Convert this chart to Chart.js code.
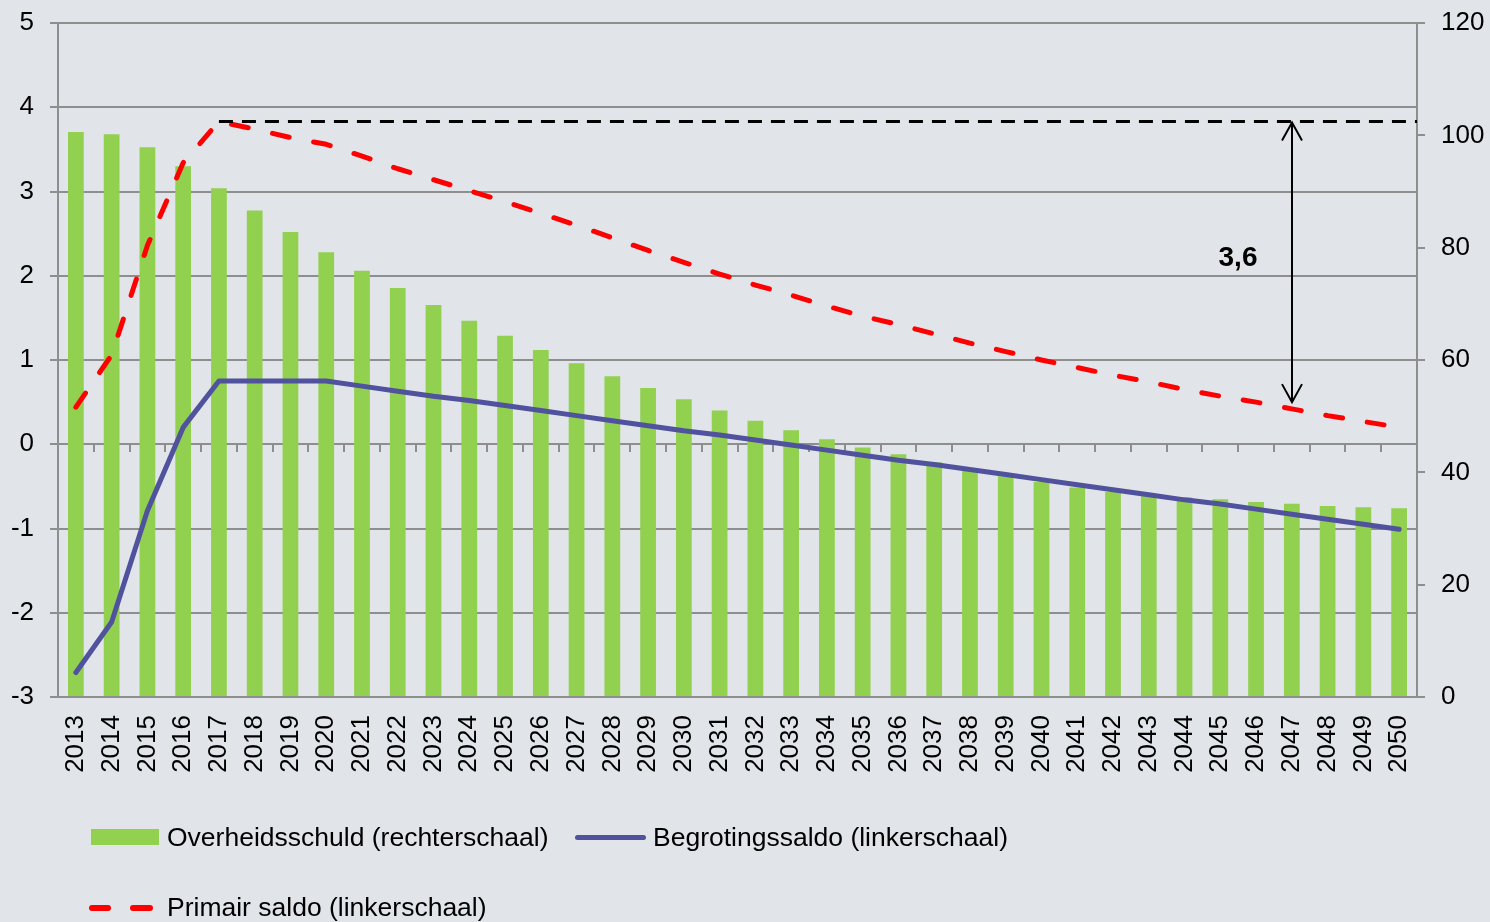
<!DOCTYPE html>
<html>
<head>
<meta charset="utf-8">
<script src="https://cdn.jsdelivr.net/npm/chart.js@4.4.1/dist/chart.umd.min.js"></script>
<style>
html,body{margin:0;padding:0;background:#E1E4E9;}
#wrap{position:relative;width:1490px;height:922px;overflow:hidden;background:#E1E4E9;}
#c{position:absolute;left:0;top:0;}
.lg{position:absolute;font-family:'Liberation Sans',Arial,sans-serif;font-size:26.5px;line-height:26px;color:#000;white-space:nowrap;}
.sw{position:absolute;}
</style>
</head>
<body>
<div id="wrap">
<canvas id="c" width="1490" height="922"></canvas>
<div class="sw" style="left:91px;top:829px;width:68px;height:16px;background:#92D050"></div>
<div class="lg" style="left:167px;top:824px">Overheidsschuld (rechterschaal)</div>
<div class="sw" style="left:575px;top:835px;width:71px;height:5px;border-radius:3px;background:#50529E"></div>
<div class="lg" style="left:653px;top:824px">Begrotingssaldo (linkerschaal)</div>
<div class="sw" style="left:89px;top:905px;width:22px;height:6px;border-radius:3px;background:#FF0000"></div>
<div class="sw" style="left:130px;top:905px;width:23px;height:6px;border-radius:3px;background:#FF0000"></div>
<div class="lg" style="left:167px;top:894px">Primair saldo (linkerschaal)</div>
</div>
<script>
// ---- data ----
const years = ['2013','2014','2015','2016','2017','2018','2019','2020','2021','2022','2023','2024','2025','2026','2027','2028','2029','2030','2031','2032','2033','2034','2035','2036','2037','2038','2039','2040','2041','2042','2043','2044','2045','2046','2047','2048','2049','2050'];
const overheidsschuld = [100.6,100.2,97.9,94.5,90.6,86.6,82.8,79.2,75.9,72.8,69.8,67.0,64.3,61.8,59.4,57.1,55.0,53.0,51.0,49.2,47.5,45.9,44.4,43.2,41.8,40.5,39.3,38.3,37.3,36.5,35.9,35.5,35.2,34.7,34.4,34.0,33.8,33.6];
const begrotingssaldo = [-2.71,-2.11,-0.79,0.20,0.75,0.75,0.75,0.75,0.69,0.63,0.57,0.52,0.46,0.40,0.34,0.28,0.22,0.16,0.11,0.05,-0.01,-0.07,-0.13,-0.19,-0.24,-0.30,-0.36,-0.42,-0.48,-0.54,-0.60,-0.66,-0.71,-0.77,-0.83,-0.89,-0.95,-1.01];
const primairSaldo = [0.44,1.06,2.36,3.34,3.83,3.74,3.64,3.56,3.42,3.27,3.14,3.01,2.88,2.74,2.60,2.45,2.30,2.16,2.02,1.89,1.77,1.64,1.52,1.42,1.31,1.20,1.10,1.00,0.91,0.82,0.74,0.65,0.57,0.50,0.42,0.34,0.27,0.20];
const leftTicks = [-3,-2,-1,0,1,2,3,4,5];
const rightTicks = [0,20,40,60,80,100,120];
const gapLabel = '3,6';
const gapFromYear = '2017';
const gapArrowYear = '2047';
const gapTop = 3.83;
const gapBottom = 0.50;

const FONT = "'Liberation Sans', Arial, sans-serif";
const GRID = '#8E8E8E';

const decor = {
  id: 'decor',
  beforeDatasetsDraw(chart) {
    const {ctx, chartArea: a, scales: {x, yL}} = chart;
    const y0 = Math.round(yL.getPixelForValue(0));
    ctx.save();
    ctx.strokeStyle = GRID;
    ctx.lineWidth = 2;
    ctx.beginPath();
    ctx.moveTo(a.left, y0);
    ctx.lineTo(a.right, y0);
    for (let i = 1; i < years.length; i++) {
      const xb = Math.round((x.getPixelForValue(i - 1) + x.getPixelForValue(i)) / 2);
      ctx.moveTo(xb, y0);
      ctx.lineTo(xb, y0 + 8);
    }
    ctx.stroke();
    ctx.restore();
  },
  afterDatasetsDraw(chart) {
    const {ctx, chartArea: a, scales: {x, yL}} = chart;
    const yTop = yL.getPixelForValue(gapTop);
    const yBot = yL.getPixelForValue(gapBottom);
    const xs = x.getPixelForValue(years.indexOf(gapFromYear));
    const xa = Math.round(x.getPixelForValue(years.indexOf(gapArrowYear)));
    ctx.save();
    ctx.strokeStyle = '#000';
    ctx.lineWidth = 3;
    ctx.setLineDash([14, 9]);
    ctx.beginPath();
    ctx.moveTo(xs, yTop);
    ctx.lineTo(a.right, yTop);
    ctx.stroke();
    ctx.setLineDash([]);
    ctx.lineWidth = 2;
    ctx.beginPath();
    ctx.moveTo(xa, yTop + 1);
    ctx.lineTo(xa, yBot);
    ctx.moveTo(xa - 10, yTop + 19);
    ctx.lineTo(xa, yTop + 1);
    ctx.lineTo(xa + 10, yTop + 19);
    ctx.moveTo(xa - 10, yBot - 18);
    ctx.lineTo(xa, yBot);
    ctx.lineTo(xa + 10, yBot - 18);
    ctx.stroke();
    ctx.fillStyle = '#000';
    ctx.font = 'bold 28px ' + FONT;
    ctx.textAlign = 'center';
    ctx.textBaseline = 'middle';
    ctx.fillText(gapLabel, xa - 54, (yTop + yBot) / 2 - 4);
    ctx.restore();
  }
};

new Chart(document.getElementById('c'), {
  data: {
    labels: years,
    datasets: [
      {
        type: 'line', label: 'Primair saldo (linkerschaal)', data: primairSaldo, yAxisID: 'yL',
        borderColor: '#FF0000', borderWidth: 5, borderDash: [17, 25], borderCapStyle: 'round',
        borderJoinStyle: 'round', pointRadius: 0, fill: false, tension: 0, order: 0
      },
      {
        type: 'line', label: 'Begrotingssaldo (linkerschaal)', data: begrotingssaldo, yAxisID: 'yL',
        borderColor: '#50529E', borderWidth: 5, borderJoinStyle: 'round', borderCapStyle: 'round',
        pointRadius: 0, fill: false, tension: 0, order: 1
      },
      {
        type: 'bar', label: 'Overheidsschuld (rechterschaal)', data: overheidsschuld, yAxisID: 'yR',
        backgroundColor: '#92D050', borderWidth: 0, barPercentage: 0.44, categoryPercentage: 1.0, order: 2
      }
    ]
  },
  options: {
    responsive: false,
    animation: false,
    devicePixelRatio: 1,
    layout: { padding: { top: 23, left: 0, right: 0, bottom: 0 } },
    plugins: { legend: { display: false }, tooltip: { enabled: false } },
    scales: {
      x: {
        type: 'category', offset: true,
        grid: { display: false, drawTicks: false },
        border: { display: false },
        ticks: { autoSkip: false, minRotation: 90, maxRotation: 90, padding: 18, color: '#000', font: { family: FONT, size: 26 } },
        afterFit(s) { s.height = 225; }
      },
      yL: {
        type: 'linear', position: 'left', min: leftTicks[0], max: leftTicks[leftTicks.length - 1],
        afterBuildTicks(s) { s.ticks = leftTicks.map(v => ({ value: v })); },
        grid: { color: GRID, lineWidth: 2, tickLength: 8, drawTicks: true },
        border: { display: true, color: GRID, width: 2 },
        ticks: { padding: 16, color: '#000', font: { family: FONT, size: 26, lineHeight: 0.5 } },
        afterFit(s) { s.width = 58; s.paddingTop = 0; s.paddingBottom = 0; }
      },
      yR: {
        type: 'linear', position: 'right', min: rightTicks[0], max: rightTicks[rightTicks.length - 1],
        afterBuildTicks(s) { s.ticks = rightTicks.map(v => ({ value: v })); },
        grid: { drawOnChartArea: false, color: GRID, lineWidth: 2, tickLength: 8, drawTicks: true },
        border: { display: true, color: GRID, width: 2 },
        ticks: { padding: 16, color: '#000', font: { family: FONT, size: 26, lineHeight: 0.5 } },
        afterFit(s) { s.width = 73; s.paddingTop = 0; s.paddingBottom = 0; }
      }
    }
  },
  plugins: [decor]
});
</script>
</body>
</html>
